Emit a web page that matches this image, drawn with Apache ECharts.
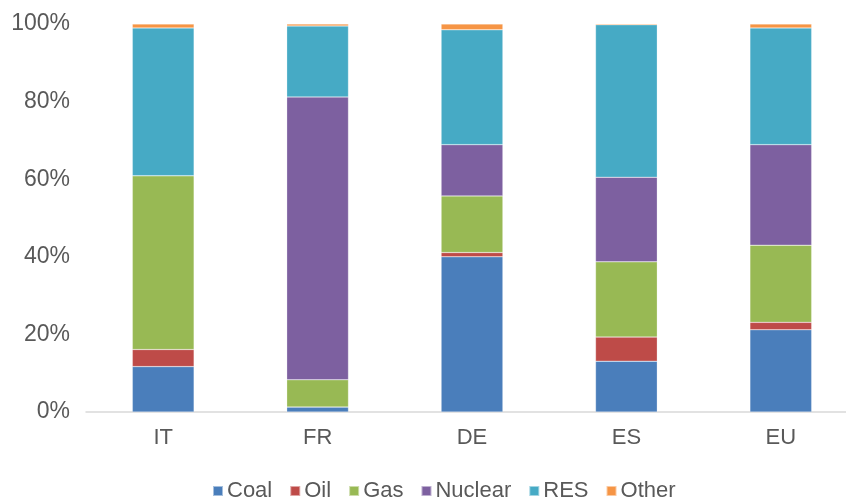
<!DOCTYPE html>
<html><head><meta charset="utf-8">
<script src="https://cdn.jsdelivr.net/npm/echarts@6/dist/echarts.min.js"></script>
<style>html,body{margin:0;padding:0;background:#fff;overflow:hidden}#c{width:858px;height:498px}</style>
</head><body><div id="c"></div>
<script>
const categories = ['IT','FR','DE','ES','EU'];
const coal    = [11.7, 1.3, 40.0, 13.1, 21.2];
const oil     = [4.4, 0.0, 1.1, 6.2, 1.9];
const gas     = [44.8, 7.0, 14.6, 19.4, 19.9];
const nuclear = [0.0, 72.9, 13.2, 21.8, 25.9];
const res     = [38.1, 18.3, 29.6, 39.3, 30.1];
const other   = [1.0, 0.5, 1.5, 0.4, 1.0];
const yTicks = [0, 20, 40, 60, 80, 100];

const seriesDefs = [
  ['Coal', coal, '#4a7ebb'],
  ['Oil', oil, '#be4b48'],
  ['Gas', gas, '#98b954'],
  ['Nuclear', nuclear, '#7d60a0'],
  ['RES', res, '#46aac5'],
  ['Other', other, '#f69545']
];

const chart = echarts.init(document.getElementById('c'));
chart.setOption({
  animation: false,
  textStyle: {fontFamily: 'Liberation Sans, Arial, sans-serif'},
  grid: {left: 86, top: 24, right: 0, height: 388},
  legend: {
    bottom: -9, left: 207,
    itemWidth: 10, itemHeight: 10, itemGap: 17,
    icon: 'rect',
    textStyle: {color: '#595959', fontSize: 22, padding: [0,0,0,-1]},
    data: seriesDefs.map(s => s[0])
  },
  xAxis: {
    type: 'category', data: categories,
    axisLine: {lineStyle: {color: '#d9d9d9', width: 1.5}},
    axisTick: {show: false},
    axisLabel: {color: '#595959', fontSize: 22, margin: 15}
  },
  yAxis: {
    type: 'value', min: 0, max: 100, interval: 20,
    axisLine: {show: false}, axisTick: {show: false},
    splitLine: {show: false},
    axisLabel: {color: '#595959', fontSize: 23, margin: 16, formatter: v => yTicks.includes(v) ? v + '%' : ''}
  },
  series: seriesDefs.map(([name, data, color]) => ({
    name, type: 'bar', stack: 'total', data, barWidth: '40%',
    itemStyle: {color, borderColor: 'rgba(255,255,255,0.5)', borderWidth: 0.5}
  }))
});
</script></body></html>
